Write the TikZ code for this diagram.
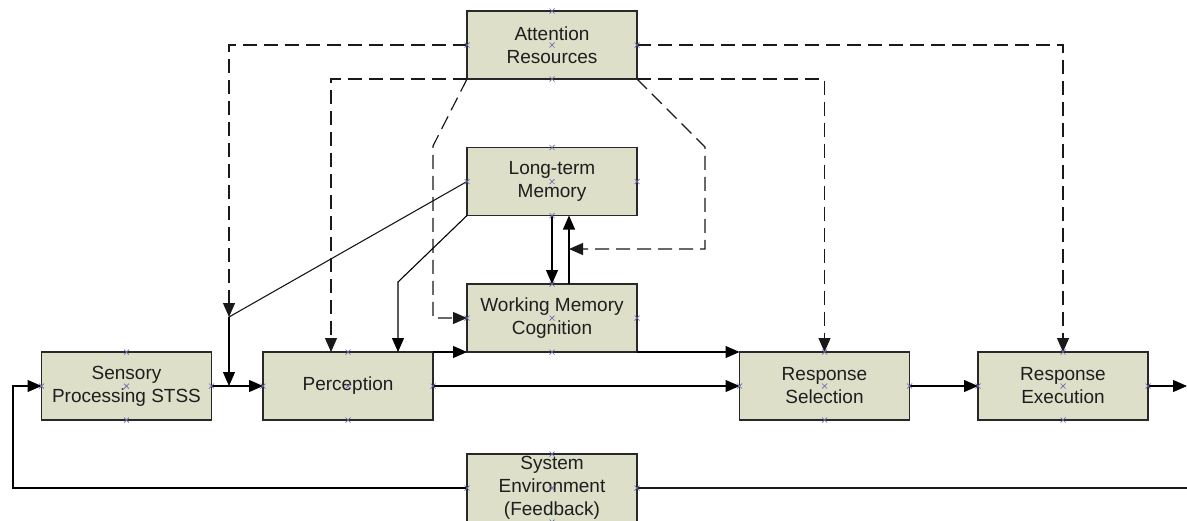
\documentclass[tikz,border=0pt]{standalone}
\usepackage{fontspec}
\setmainfont{Liberation Sans}
\usetikzlibrary{arrows.meta}
\definecolor{boxfill}{RGB}{221,223,200}
\definecolor{boxline}{RGB}{40,40,40}
\definecolor{inktext}{RGB}{30,30,30}
\definecolor{pointmark}{RGB}{105,105,170}
\tikzset{
  block/.style={draw=boxline, line width=1.3pt, fill=boxfill, rectangle,
    minimum width=170pt, minimum height=68pt, inner sep=0pt, outer sep=0pt,
    align=center, text=inktext, font=\fontsize{19}{23}\selectfont},
  tip/.style={-{Triangle[length=14pt,width=12pt]}},
  flow/.style={draw=black, line width=1.1pt, tip},
  plain/.style={draw=black!90, line width=1.1pt},
  attn/.style={draw=black!90, line width=1.2pt, dash pattern=on 14pt off 7pt},
  attnarrow/.style={attn, tip},
  pointmark/.style={draw=pointmark, line width=0.7pt}
}
\begin{document}
\begin{tikzpicture}[x=1pt,y=-1pt]
\clip (0,0) rectangle (1187,520);
\fill[white] (0,0) rectangle (1187,520);

% processing stages
\node[block] (att)    at (552,45)    {Attention\\Resources};
\node[block] (ltm)    at (552,181.5) {Long-term\\Memory};
\node[block] (wm)     at (552,318)   {Working Memory\\Cognition};
\node[block] (sens)   at (126.5,386) {Sensory\\Processing STSS};
\node[block] (perc)   at (348,386)   {Perception};
\node[block] (rsel)   at (824.5,386) {Response\\Selection};
\node[block] (rexe)   at (1063,386)  {Response\\Execution};
\node[block] (sysenv) at (552,488)   {System\\Environment\\(Feedback)};

% bend and junction points
\coordinate (jSens)  at (229,317);
\coordinate (jMerge) at (229,386);
\coordinate (bendL)  at (433,146);
\coordinate (bendP)  at (398,282);
\coordinate (bendR)  at (705,147);
\coordinate (fbk)    at (569,249);
\coordinate (loopL)  at (13,386);
\coordinate (outR)   at (1187,386);
\coordinate (outE)   at (1187,488);

% attention (dashed) links
\draw[attnarrow] (att.west) -| (jSens);
\draw[attnarrow] (att.south west) -| ([xshift=-17pt]perc.north);
\draw[attnarrow] (att.south west) -- (bendL) |- (wm.west);
\draw[attnarrow] (att.east) -| (rexe.north);
\draw[attnarrow] (att.south east) -| (rsel.north);
\draw[attnarrow] (att.south east) -- (bendR) |- (fbk);

% memory links
\draw[plain] (ltm.west) -- (jSens);
\draw[flow] (jSens) -- (jMerge);
\draw[flow] (ltm.south west) -- (bendP) -- (bendP |- perc.north);
\draw[flow] (ltm.south) -- (wm.north);
\draw[flow] ([xshift=17pt]wm.north) -- ([xshift=17pt]ltm.south);

% main information flow
\draw[flow] (sens.east) -- (perc.west);
\draw[flow] (perc.north east) -- (wm.south west);
\draw[flow] (wm.south east) -- (rsel.north west);
\draw[flow] (perc.east) -- (rsel.west);
\draw[flow] (rsel.east) -- (rexe.west);
\draw[flow] (rexe.east) -- (outR);

% feedback loop
\draw[flow] (sysenv.west) -| (loopL) -- (sens.west);
\draw[plain] (sysenv.east) -- (outE);

% connection points
\foreach \n in {att,ltm,wm,sens,perc,rsel,rexe,sysenv}
  \foreach \a in {center,north,south,east,west}
    \draw[pointmark] (\n.\a) +(-2.5,-2.5) -- +(2.5,2.5) +(-2.5,2.5) -- +(2.5,-2.5);
\end{tikzpicture}
\end{document}
